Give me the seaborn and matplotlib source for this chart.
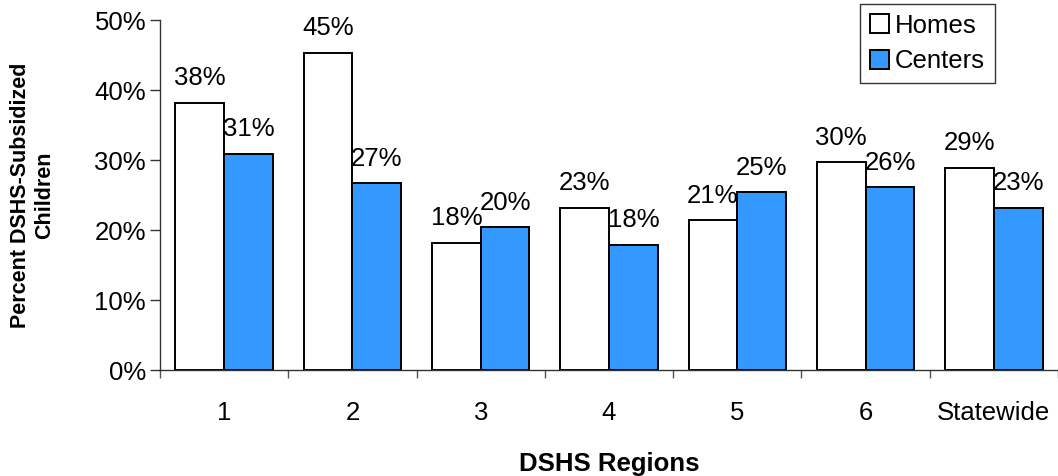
import matplotlib
matplotlib.use("Agg")
import matplotlib.pyplot as plt
import seaborn as sns
import pandas as pd
import numpy as np

regions = ["1", "2", "3", "4", "5", "6", "Statewide"]
homes = [38.2, 45.3, 18.2, 23.2, 21.4, 29.7, 28.9]
centers = [30.9, 26.7, 20.4, 17.9, 25.4, 26.1, 23.2]
series = ["Homes", "Centers"]
colors = {"Homes": "#ffffff", "Centers": "#3399ff"}

df = pd.DataFrame({
    "Region": regions * 2,
    "Series": ["Homes"] * len(regions) + ["Centers"] * len(regions),
    "Value": homes + centers,
})

sns.set_style("white")
plt.rcParams["font.family"] = ["Liberation Sans", "DejaVu Sans"]
plt.rcParams["text.color"] = "black"
plt.rcParams["axes.labelcolor"] = "black"
plt.rcParams["xtick.color"] = "black"
plt.rcParams["ytick.color"] = "black"

FS = 18.5

fig = plt.figure(figsize=(10.58, 4.76), dpi=100)
ax = fig.add_axes([160 / 1058, 1 - 370 / 476, 898 / 1058, 350 / 476])

sns.barplot(data=df, x="Region", y="Value", hue="Series", hue_order=series,
            palette=colors, order=regions, width=0.76, edgecolor="black",
            linewidth=1.4, saturation=1, ax=ax, legend=True)

for cont in ax.containers:
    ax.bar_label(cont, labels=[f"{v:.0f}%" for v in cont.datavalues],
                 padding=9, fontsize=FS, color="black")

ax.set_ylim(0, 50)
ax.set_xlim(-0.5, len(regions) - 0.5)
ax.set_yticks(np.arange(0, 51, 10))
ax.set_yticklabels([f"{t}%" for t in range(0, 51, 10)], fontsize=FS)
ax.tick_params(axis="y", which="major", direction="out", length=7, width=1, color="#333333", pad=3, left=True)
ax.tick_params(axis="x", which="major", length=0, pad=22, labelsize=FS)
ax.set_xticks(np.arange(-0.5, len(regions), 1.0), minor=True)
ax.tick_params(axis="x", which="minor", direction="out", length=6, width=1, color="#555555", bottom=True)

for s in ["top", "right"]:
    ax.spines[s].set_visible(False)
for s in ["left", "bottom"]:
    ax.spines[s].set_color("#333333")
    ax.spines[s].set_linewidth(1.0)

ax.set_xlabel("DSHS Regions", fontsize=FS, fontweight="bold", labelpad=20)
ax.set_ylabel("Percent DSHS-Subsidized\nChildren", fontsize=15.5, fontweight="bold", labelpad=28)

leg = ax.legend(loc="upper right", bbox_to_anchor=((995 - 160) / 898, 1 + 16 / 350),
                fontsize=FS, frameon=True, fancybox=False, edgecolor="black",
                handlelength=0.75, handleheight=0.75, handletextpad=0.25,
                borderpad=0.38, labelspacing=0.45, borderaxespad=0)
leg.get_frame().set_linewidth(1.0)

fig.savefig("out.png", dpi=100)
